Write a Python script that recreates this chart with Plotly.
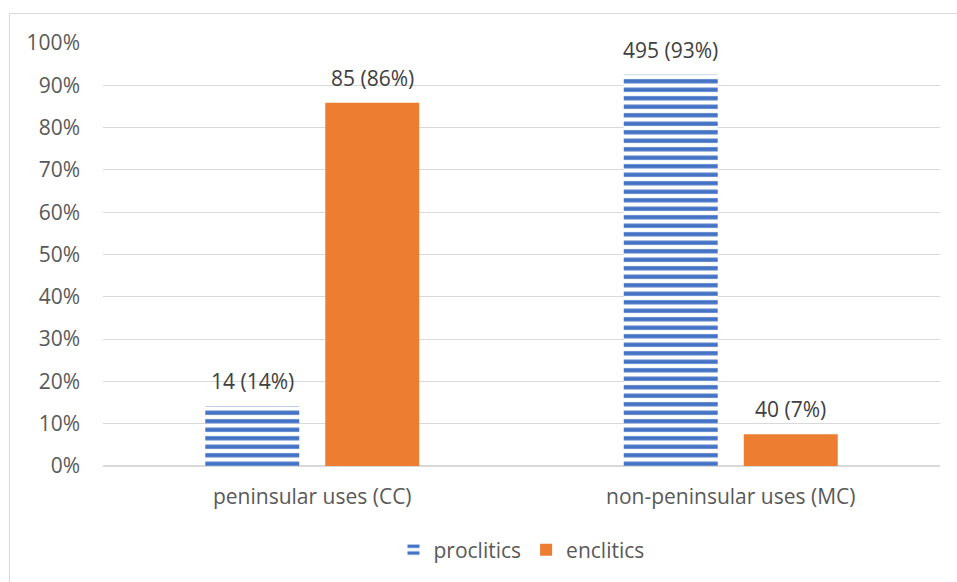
import plotly.graph_objects as go

# Clitic placement counts per usage group
categories = ["peninsular uses (CC)", "non-peninsular uses (MC)"]
proclitics = [14, 495]
enclitics = [85, 40]

totals = [p + e for p, e in zip(proclitics, enclitics)]
pro_share = [p / t for p, t in zip(proclitics, totals)]
enc_share = [e / t for e, t in zip(enclitics, totals)]

pro_text = [f"{c} ({round(s * 100)}%)" for c, s in zip(proclitics, pro_share)]
enc_text = [f"{c} ({round(s * 100)}%)" for c, s in zip(enclitics, enc_share)]

FONT = "'Open Sans', Lato, sans-serif"
GREY = "#595959"
SIZE = 21

fig = go.Figure()
fig.add_trace(go.Bar(
    name="proclitics",
    x=categories,
    y=pro_share,
    marker=dict(
        color="white",
        line=dict(width=0),
        pattern=dict(shape="-", fgcolor="#4472c4", bgcolor="white",
                     size=8.5, solidity=0.5, fillmode="replace",
                     fgopacity=1),
    ),
))
fig.add_trace(go.Bar(
    name="enclitics",
    x=categories,
    y=enc_share,
    marker=dict(color="#ed7d31", line=dict(width=0)),
))

# value labels above each bar, shifted to the bar's slot in its group
annotations = []
for shift, shares, texts in ((-60, pro_share, pro_text), (60, enc_share, enc_text)):
    for cat, s, t in zip(categories, shares, texts):
        annotations.append(dict(
            x=cat, y=s, xref="x", yref="y", text=t, showarrow=False,
            xshift=shift, yshift=25, yanchor="middle",
            font=dict(size=SIZE, color="#404040", family=FONT),
        ))

fig.update_layout(
    width=957,
    height=582,
    margin=dict(l=103, r=17, t=43, b=116),
    paper_bgcolor="white",
    plot_bgcolor="white",
    barmode="group",
    bargap=0.4265,
    bargroupgap=0.217,
    font=dict(family=FONT, size=SIZE, color=GREY),
    showlegend=True,
    legend=dict(
        orientation="h",
        x=0.5, xanchor="center",
        y=(466 - 550) / 423, yanchor="middle",
        font=dict(size=SIZE, color=GREY),
        itemwidth=30,
        traceorder="normal",
    ),
    xaxis=dict(
        showgrid=False,
        showline=True,
        linecolor="#d9d9d9",
        linewidth=1,
        ticks="",
        ticklabelstandoff=12,
        tickfont=dict(size=SIZE, color=GREY),
    ),
    yaxis=dict(
        range=[0, 1],
        dtick=0.1,
        tickformat=".0%",
        showgrid=True,
        gridcolor="#d9d9d9",
        gridwidth=1,
        zeroline=True,
        zerolinecolor="#d9d9d9",
        showline=False,
        ticks="",
        ticklabelstandoff=22,
        tickfont=dict(size=SIZE, color=GREY),
    ),
    annotations=annotations,
    shapes=[dict(
        type="rect", xref="paper", yref="paper",
        x0=(9.5 - 103) / 837, x1=1.2,
        y0=-0.5, y1=(466 - 13.5) / 423,
        line=dict(color="#d9d9d9", width=1),
        fillcolor="rgba(0,0,0,0)",
        layer="below",
    )],
)

fig.write_html("out.html")
